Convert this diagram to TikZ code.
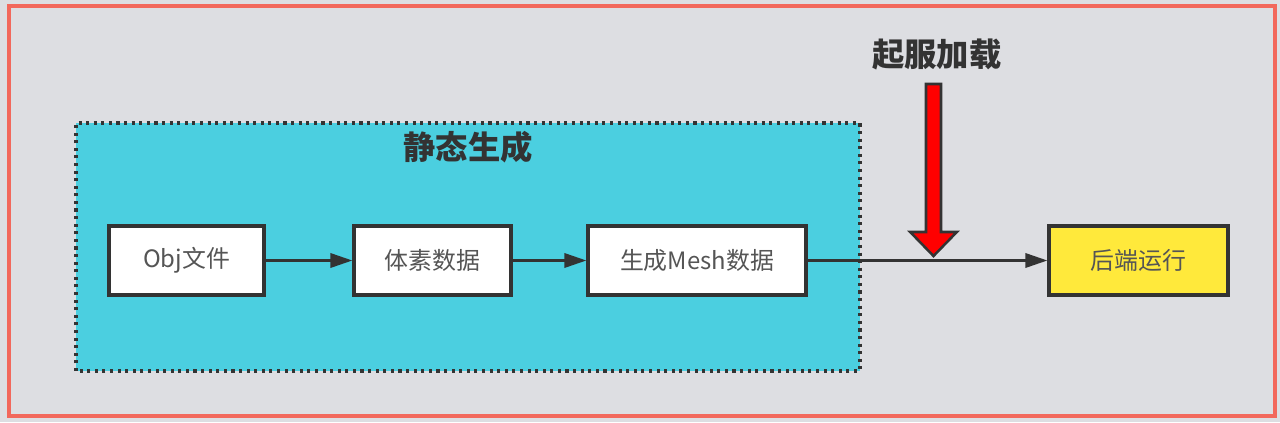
\documentclass[tikz,border=0pt]{standalone}
\usepackage{fontspec}
\setmainfont{Noto Sans CJK SC}
\usetikzlibrary{arrows.meta,positioning}
\definecolor{bggray}{RGB}{221,222,226}
\definecolor{framered}{RGB}{242,104,92}
\definecolor{boxcyan}{RGB}{75,207,224}
\definecolor{boxyellow}{RGB}{255,233,59}
\definecolor{linegray}{RGB}{51,51,51}
\definecolor{textgray}{RGB}{85,85,85}
\begin{document}
\begin{tikzpicture}[
  stage/.style={draw=linegray, fill=white, line width=2.4pt, minimum height=1.725cm, align=center, text=textgray, font=\fontsize{17}{20}\selectfont},
  title/.style={font=\fontsize{23}{28}\selectfont\bfseries, text=linegray},
  arr/.style={-{Triangle[length=5.5mm,width=3.6mm]}, line width=1.7pt, draw=linegray}
]
\useasboundingbox (0,0) rectangle (32,10.55);
\fill[bggray] (0,0) rectangle (32,10.55);
\draw[framered, line width=2.6pt] (0.225,0.15) rectangle (31.875,10.4);

% static generation group
\draw[fill=boxcyan, draw=linegray, line width=2.2pt, dash pattern=on 2.2pt off 3.2pt] (1.9,1.275) rectangle (21.5,7.475);
\node[title] (grp) at (11.7,6.875) {静态生成};

\node[stage, minimum width=3.875cm] (obj) at (4.6625,4.0375) {Obj文件};
\node[stage, minimum width=3.925cm] (voxel) at (10.8125,4.0375) {体素数据};
\node[stage, minimum width=5.45cm] (mesh) at (17.425,4.0375) {生成Mesh数据};
\node[stage, minimum width=4.475cm, fill=boxyellow] (run) at (28.4625,4.0375) {后端运行};

\draw[arr] (obj) -- (voxel);
\draw[arr] (voxel) -- (mesh);
\draw[arr] (mesh) -- (run);

% server load arrow
\node[title] (load) at (23.42,9.2) {起服加载};
\draw[fill=red, draw=linegray, line width=1.8pt, line join=miter]
  (23.15,8.45) -- (23.525,8.45) -- (23.525,4.75) -- (23.92,4.75)
  -- (23.3375,4.15) -- (22.755,4.75) -- (23.15,4.75) -- cycle;
\end{tikzpicture}
\end{document}
